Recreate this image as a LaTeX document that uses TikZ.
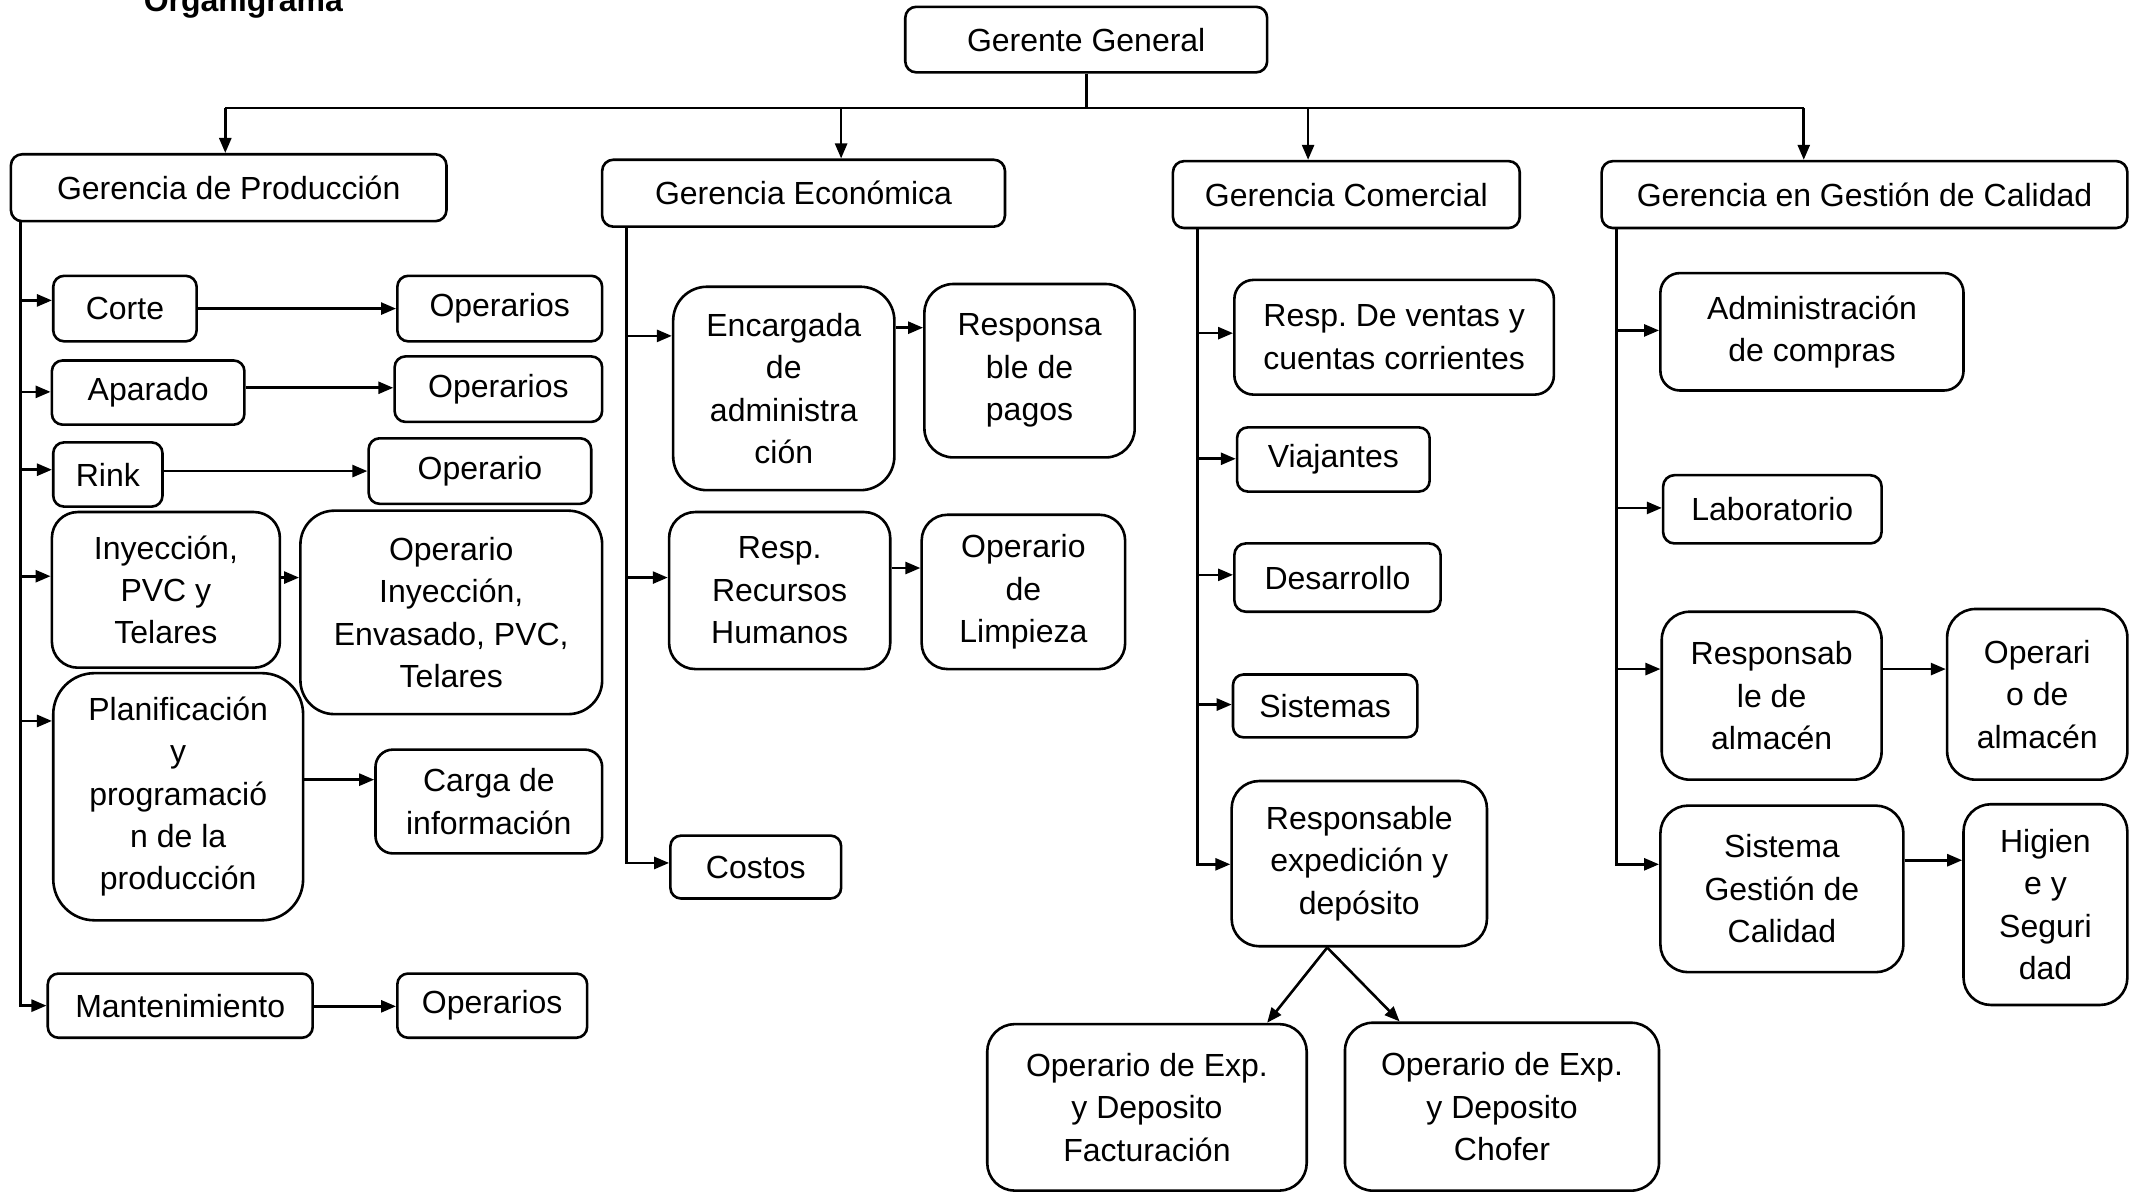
\documentclass[tikz,border=0pt]{standalone}
\usepackage{fontspec}
\setmainfont{Liberation Sans}
\usetikzlibrary{arrows.meta}
\frenchspacing
\tikzset{
  boxs/.style={draw, line width=1.3pt, inner sep=0pt, align=center,
    font=\fontsize{16}{21.2}\selectfont},
  ln/.style={line width=1.3pt},
  arr/.style={line width=1.3pt, -{Triangle[length=7.5pt,width=6pt]}},
}
\newcommand\obox[6]{%
  \pgfmathsetmacro\oW{(#4-#2)*0.6827}%
  \pgfmathsetmacro\oH{(#5-#3)*0.6827}%
  \pgfmathsetmacro\oR{min(\oW,\oH)/6}%
  \node[boxs, minimum width=\oW pt, minimum height=\oH pt, rounded corners=\oR pt]
    (#1) at ({(#2+#4)/2},{(#3+#5)/2}) {#6};}
\newcommand\brn[3]{\draw[arr] (#1,#3) -- (#2.west |- 0,#3);}
\newcommand\hrn[3]{\draw[arr] (#1.east |- 0,#3) -- (#2.west |- 0,#3);}
\begin{document}
\begin{tikzpicture}[x=0.6827pt, y=-0.6827pt]
\useasboundingbox (0,0) rectangle (1568,874);
\clip (0,0) rectangle (1568,874);
\node[font=\bfseries\fontsize{16}{19}\selectfont, anchor=base west, inner sep=0pt] (title) at (105,8.5) {Organigrama};

% level 0 / 1
\obox{gg}{663}{5}{928}{53}{Gerente General}
\obox{gp}{8}{113}{327}{162}{Gerencia de Producción}
\obox{ge}{441}{117}{736}{166}{Gerencia Económica}
\obox{gc}{859}{118}{1113}{167}{Gerencia Comercial}
\obox{gq}{1173}{118}{1558}{167}{Gerencia en Gestión de Calidad}

% Produccion
\obox{corte}{39}{202}{144}{250}{Corte}
\obox{op1}{291}{202}{441}{250}{Operarios}
\obox{apar}{38}{264}{179}{311}{Aparado}
\obox{op2}{289}{261}{441}{309}{Operarios}
\obox{rink}{39}{324}{119}{371}{Rink}
\obox{op3}{270}{321}{433}{369}{Operario}
\obox{iny}{38}{375}{205}{489}{Inyección,\\PVC y\\Telares}
\obox{opiny}{220}{374}{441}{523}{Operario\\Inyección,\\Envasado, PVC,\\Telares}
\obox{plan}{39}{493}{222}{674}{Planificación\\y\\programació\\n de la\\producción}
\obox{carga}{275}{549}{441}{625}{Carga de\\información}
\obox{mant}{35}{713}{229}{760}{Mantenimiento}
\obox{op4}{291}{713}{430}{760}{Operarios}

% Economica
\obox{enc}{493}{210}{655}{359}{Encargada\\de\\administra\\ción}
\obox{pag}{677}{208}{831}{335}{Responsa\\ble de\\pagos}
\obox{rrhh}{490}{375}{652}{490}{Resp.\\Recursos\\Humanos}
\obox{limp}{675}{377}{824}{490}{Operario\\de\\Limpieza}
\obox{cost}{491}{612}{616}{658}{Costos}

% Comercial
\obox{vent}{904}{205}{1138}{289}{Resp. De ventas y\\cuentas corrientes}
\obox{viaj}{906}{313}{1047}{360}{Viajantes}
\obox{desa}{904}{398}{1055}{448}{Desarrollo}
\obox{sist}{903}{494}{1038}{540}{Sistemas}
\obox{rexp}{902}{572}{1089}{693}{Responsable\\expedición y\\depósito}
\obox{opf}{723}{750}{957}{872}{Operario de Exp.\\y Deposito\\Facturación}
\obox{opc}{985}{749}{1215}{872}{Operario de Exp.\\y Deposito\\Chofer}

% Calidad
\obox{comp}{1216}{200}{1438}{286}{Administración\\de compras}
\obox{lab}{1218}{348}{1378}{398}{Laboratorio}
\obox{ralm}{1217}{448}{1378}{571}{Responsab\\le de\\almacén}
\obox{oalm}{1426}{446}{1558}{571}{Operari\\o de\\almacén}
\obox{sgc}{1216}{590}{1394}{712}{Sistema\\Gestión de\\Calidad}
\obox{hig}{1438}{589}{1558}{736}{Higien\\e y\\Seguri\\dad}

% top bus
\coordinate (busL) at (165,79);
\coordinate (busR) at (1321,79);
\draw[ln] (gg.south) -- (gg.south |- busL);
\draw[ln] (busL) -- (busR);
\draw[arr] (busL) -- (gp.north -| busL);
\draw[arr] (616,79) -- (ge.north -| 616,0);
\draw[arr] (958,79) -- (gc.north -| 958,0);
\draw[arr] (busR) -- (gq.north -| busR);

% Produccion connectors
\draw[arr] (gp.south -| 15,0) |- (mant.west);
\brn{15}{corte}{220}
\brn{15}{apar}{287}
\brn{15}{rink}{344}
\brn{15}{iny}{422}
\brn{15}{plan}{528}
\hrn{corte}{op1}{226}
\hrn{apar}{op2}{284}
\hrn{rink}{op3}{345}
\hrn{iny}{opiny}{423}
\hrn{plan}{carga}{571}
\hrn{mant}{op4}{737}

% Economica connectors
\draw[arr] (ge.south -| 459,0) |- (cost.west |- 0,632);
\brn{459}{enc}{246}
\brn{459}{rrhh}{423}
\hrn{enc}{pag}{240}
\hrn{rrhh}{limp}{416}

% Comercial connectors
\draw[arr] (gc.south -| 877,0) |- (rexp.west |- 0,633);
\brn{877}{vent}{244}
\brn{877}{viaj}{336}
\brn{877}{desa}{421}
\brn{877}{sist}{516}
\draw[arr] (rexp.south -| 972,0) -- (opf.north -| 928,0);
\draw[arr] (rexp.south -| 972,0) -- (opc.north -| 1025,0);

% Calidad connectors
\draw[arr] (gq.south -| 1184,0) |- (sgc.west |- 0,633);
\brn{1184}{comp}{242}
\brn{1184}{lab}{372}
\brn{1184}{ralm}{490}
\hrn{ralm}{oalm}{490}
\hrn{sgc}{hig}{630}
\end{tikzpicture}
\end{document}
